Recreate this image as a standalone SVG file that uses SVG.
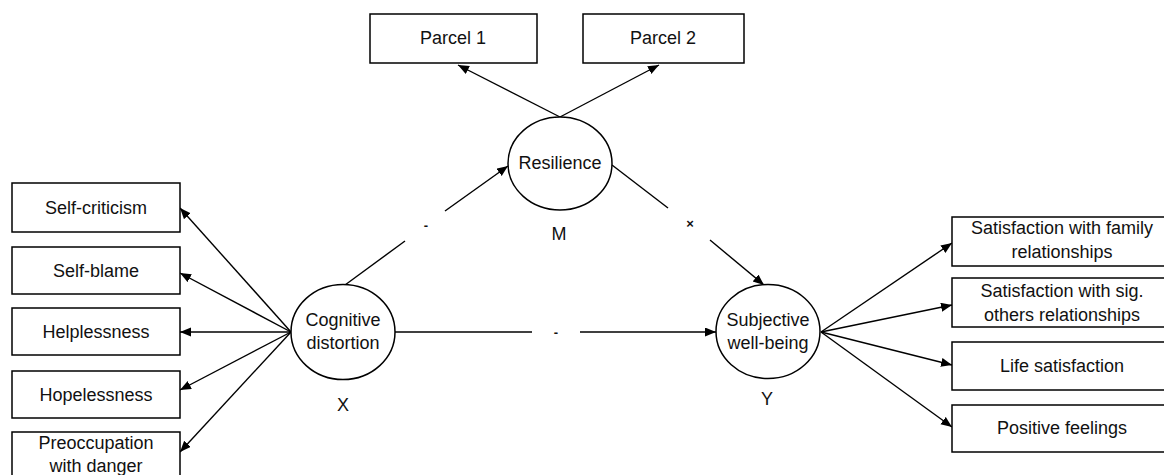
<svg xmlns="http://www.w3.org/2000/svg" width="1164" height="475" viewBox="0 0 1164 475">
<style>
.box{fill:#fff;stroke:#000;stroke-width:1.5}
.lat{fill:#fff;stroke:#000;stroke-width:1.5}
.t{font-family:"Liberation Sans",Arial,sans-serif;font-size:18px;fill:#111;text-anchor:middle}
.s{font-family:"Liberation Sans",Arial,sans-serif;font-size:13px;font-weight:bold;fill:#111;text-anchor:middle}
.c{stroke:#000;stroke-width:1.4;fill:none}
.a{marker-end:url(#ah)}
</style>
<defs>
<marker id="ah" markerUnits="userSpaceOnUse" markerWidth="12" markerHeight="10" refX="11" refY="4.5" orient="auto">
<path d="M0,0 L11,4.5 L0,9 z" fill="#000"/>
</marker>
</defs>
<rect width="1164" height="475" fill="#fff"/>
<g id="connectors">
<line class="c a" x1="560" y1="117" x2="458" y2="65"/>
<line class="c a" x1="560" y1="117" x2="659" y2="65"/>
<line class="c a" x1="291" y1="332" x2="180" y2="208"/>
<line class="c a" x1="291" y1="332" x2="180" y2="273"/>
<line class="c a" x1="291" y1="332" x2="180" y2="332"/>
<line class="c a" x1="291" y1="332" x2="180" y2="390"/>
<line class="c a" x1="291" y1="332" x2="180" y2="452"/>
<line class="c a" x1="821" y1="332" x2="952" y2="243"/>
<line class="c a" x1="821" y1="332" x2="952" y2="305"/>
<line class="c a" x1="821" y1="332" x2="952" y2="365"/>
<line class="c a" x1="821" y1="332" x2="952" y2="427"/>
<line class="c" x1="345" y1="285" x2="405" y2="241"/>
<line class="c a" x1="445" y1="211" x2="508" y2="166"/>
<line class="c" x1="612" y1="165" x2="668" y2="208"/>
<line class="c a" x1="710" y1="240" x2="764" y2="285"/>
<line class="c" x1="395" y1="332" x2="532" y2="332"/>
<line class="c a" x1="580" y1="332" x2="716" y2="332"/>
<text class="s" x="426" y="230">-</text>
<text class="s" x="690" y="228">×</text>
<text class="s" x="556" y="337">-</text>
</g>
<g id="parcel1"><rect class="box" x="370" y="14" width="167" height="49"/><text class="t" x="453" y="44">Parcel 1</text></g>
<g id="parcel2"><rect class="box" x="583" y="14" width="161" height="49"/><text class="t" x="663" y="44">Parcel 2</text></g>
<g id="resilience"><ellipse class="lat" cx="560" cy="163.5" rx="52" ry="46.5"/><text class="t" x="560" y="169">Resilience</text><text class="t" x="559" y="240">M</text></g>
<g id="cognitive"><ellipse class="lat" cx="343" cy="332" rx="52" ry="47.5"/><text class="t" x="343" y="326">Cognitive</text><text class="t" x="343" y="349">distortion</text><text class="t" x="343" y="411">X</text></g>
<g id="swb"><ellipse class="lat" cx="768" cy="331.5" rx="52" ry="47"/><text class="t" x="768" y="326">Subjective</text><text class="t" x="768" y="349">well-being</text><text class="t" x="767" y="405">Y</text></g>
<g id="selfcriticism"><rect class="box" x="12" y="183" width="168" height="49"/><text class="t" x="96" y="214">Self-criticism</text></g>
<g id="selfblame"><rect class="box" x="12" y="247" width="168" height="47"/><text class="t" x="96" y="277">Self-blame</text></g>
<g id="helplessness"><rect class="box" x="12" y="308" width="168" height="47"/><text class="t" x="96" y="338">Helplessness</text></g>
<g id="hopelessness"><rect class="box" x="12" y="371" width="168" height="47"/><text class="t" x="96" y="401">Hopelessness</text></g>
<g id="preoccupation"><rect class="box" x="12" y="432" width="168" height="50"/><text class="t" x="96" y="449">Preoccupation</text><text class="t" x="96" y="472">with danger</text></g>
<g id="family"><rect class="box" x="952" y="217" width="220" height="49"/><text class="t" x="1062" y="234">Satisfaction with family</text><text class="t" x="1062" y="258">relationships</text></g>
<g id="sigothers"><rect class="box" x="952" y="278" width="220" height="49"/><text class="t" x="1062" y="297">Satisfaction with sig.</text><text class="t" x="1062" y="321">others relationships</text></g>
<g id="lifesat"><rect class="box" x="952" y="342" width="220" height="48"/><text class="t" x="1062" y="372">Life satisfaction</text></g>
<g id="positive"><rect class="box" x="952" y="405" width="220" height="47"/><text class="t" x="1062" y="434">Positive feelings</text></g>
</svg>
